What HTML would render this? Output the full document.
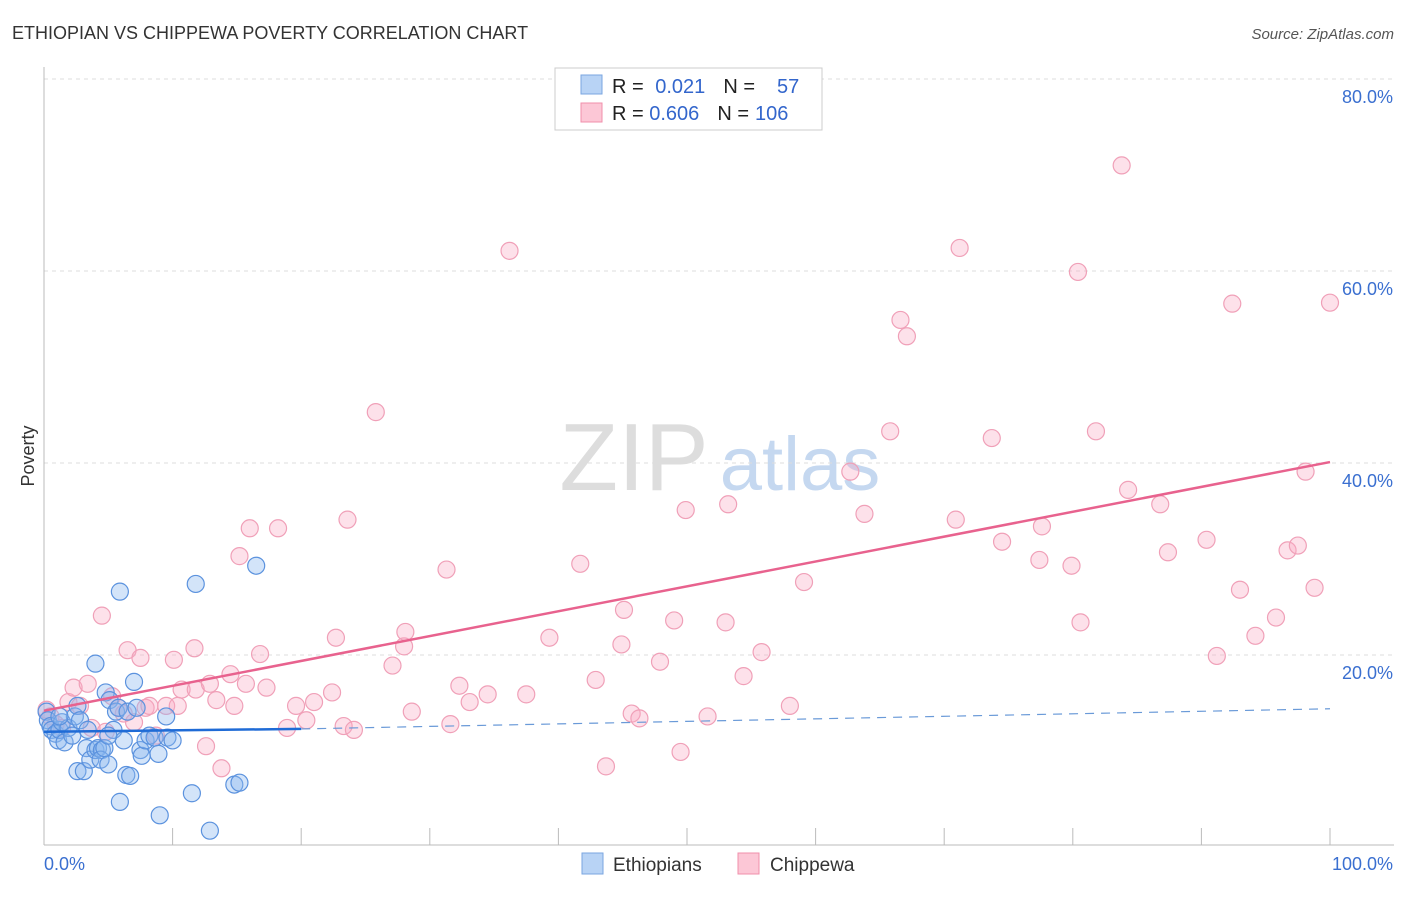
<!DOCTYPE html>
<html><head><meta charset="utf-8"><style>
body{margin:0;background:#fff;font-family:"Liberation Sans",sans-serif;}
svg text{font-family:"Liberation Sans",sans-serif;}
</style></head><body>
<svg id="chart" width="1406" height="892" xmlns="http://www.w3.org/2000/svg">
<text x="12" y="39" font-size="18" fill="#333">ETHIOPIAN VS CHIPPEWA POVERTY CORRELATION CHART</text>
<text x="1394" y="39" font-size="15" fill="#555" font-style="italic" text-anchor="end">Source: ZipAtlas.com</text>
<g>
<text x="634" y="490" font-size="96" fill="#ddd" font-family="Liberation Serif,serif" text-anchor="middle">ZIP</text>
<text x="800" y="490" font-size="76" fill="#c5d8f0" text-anchor="middle">atlas</text>
</g>
<g id="grid"></g>
<g id="axes"></g>
<g id="pink"></g>
<g id="blue"></g>
<g id="trend"></g>
<text x="34" y="456" font-size="18" fill="#333" text-anchor="middle" transform="rotate(-90 34 456)">Poverty</text>
<g>
<rect x="555" y="68" width="267" height="62" fill="#fff" stroke="#ccc"/>
<rect x="581" y="75" width="21" height="19" fill="#b8d3f5" stroke="#7aa6e0"/>
<rect x="581" y="103" width="21" height="19" fill="#fcc7d6" stroke="#f08fab"/>
<text x="612" y="93" font-size="20" fill="#222">R = <tspan fill="#3366cc" dx="6">0.021</tspan><tspan dx="18" fill="#222">N =</tspan><tspan dx="22" fill="#3366cc">57</tspan></text>
<text x="612" y="120" font-size="20" fill="#222">R = <tspan fill="#3366cc">0.606</tspan><tspan dx="18" fill="#222">N =</tspan><tspan dx="6" fill="#3366cc">106</tspan></text>
</g>
<g>
<rect x="582" y="853" width="21" height="21" fill="#b8d3f5" stroke="#7aa6e0"/>
<text x="613" y="871" font-size="19" fill="#333">Ethiopians</text>
<rect x="738" y="853" width="21" height="21" fill="#fcc7d6" stroke="#f08fab"/>
<text x="770" y="871" font-size="19" fill="#333">Chippewa</text>
</g>
</svg>
<script>
const yTicks=[20,40,60,80];
const yTickLabels=["20.0%","40.0%","60.0%","80.0%"];
const xTickVals=[0,10,20,30,40,50,60,70,80,90,100];
const blueX=[0.2,0.3,0.5,0.6,0.9,1.1,1.2,1.4,1.6,1.9,2.2,2.4,2.6,2.8,2.6,3.1,3.3,3.4,3.6,4.0,4.0,4.2,4.5,4.4,4.7,4.8,5.0,5.1,5.4,5.6,5.8,5.9,5.9,6.2,6.4,6.7,6.5,7.0,7.2,7.5,7.6,7.9,8.2,8.6,8.9,9.0,9.5,9.6,10.0,11.5,11.8,12.9,14.8,15.2,16.5,5.0,1.2];
const blueY=[14.1,13.2,12.6,12.2,11.8,11.1,12.2,13.0,10.9,12.4,11.6,13.6,14.7,13.2,7.9,7.9,10.3,12.2,9.1,19.1,10.1,10.3,10.1,9.1,10.3,16.1,8.6,15.3,12.2,14.1,14.5,26.6,4.7,11.1,7.5,7.4,14.1,17.2,14.5,10.1,9.5,11.1,11.6,11.4,9.7,3.3,13.6,11.4,11.1,5.6,27.4,1.7,6.5,6.7,29.3,11.6,13.6];
const pinkX=[0.2,0.5,0.9,1.4,1.9,2.3,2.8,3.4,3.7,4.5,4.8,5.3,5.8,6.2,6.5,7.0,7.5,7.9,8.2,8.7,9.5,10.1,10.4,10.7,11.7,11.8,12.6,12.9,13.4,13.8,14.5,14.8,15.2,15.7,16.0,16.8,17.3,18.2,18.9,19.6,20.4,21.0,22.4,22.7,23.3,23.6,24.1,25.8,27.1,28.0,28.1,28.6,31.3,31.6,32.3,33.1,34.5,36.2,37.5,39.3,41.7,42.9,43.7,44.9,45.1,45.7,46.3,47.9,49.0,49.5,49.9,51.6,53.0,53.2,54.4,55.8,58.0,59.1,62.7,63.8,65.8,66.6,67.1,70.9,71.2,73.7,74.5,77.4,77.6,79.9,80.4,80.6,81.8,84.3,83.8,86.8,87.4,90.4,91.2,92.4,93.0,94.2,95.8,96.7,97.5,98.1,98.8,100];
const pinkY=[14.3,13.6,12.8,12.4,15.1,16.6,14.7,17.0,12.4,24.1,12.0,15.7,14.5,13.9,20.5,13.0,19.7,14.5,14.7,11.6,14.7,19.5,14.7,16.4,20.7,16.4,10.5,17.0,15.3,8.2,18.0,14.7,30.3,17.0,33.2,20.1,16.6,33.2,12.4,14.7,13.2,15.1,16.1,21.8,12.6,34.1,12.2,45.3,18.9,20.9,22.4,14.1,28.9,12.8,16.8,15.1,15.9,62.1,15.9,21.8,29.5,17.4,8.4,21.1,24.7,13.9,13.4,19.3,23.6,9.9,35.1,13.6,23.4,35.7,17.8,20.3,14.7,27.6,39.1,34.7,43.3,54.9,53.2,34.1,62.4,42.6,31.8,29.9,33.4,29.3,59.9,23.4,43.3,37.2,71.0,35.7,30.7,32.0,19.9,56.6,26.8,22.0,23.9,30.9,31.4,39.1,27.0,56.7];
const pinkTrend=[[0,14.2],[100,40.1]];
const blueTrendSolid=[[0,12.0],[20,12.3]];
const blueTrendDash=[[20,12.3],[100,14.4]];

const NS="http://www.w3.org/2000/svg";
const X0=44,X1=1330,Y0=847,PXPER=9.6;
function sx(v){return X0+(X1-X0)*v/100;}
function sy(v){return Y0-v*PXPER;}
function mk(tag,attrs,parent){const e=document.createElementNS(NS,tag);for(const k in attrs)e.setAttribute(k,attrs[k]);parent.appendChild(e);return e;}
const grid=document.getElementById('grid'),axes=document.getElementById('axes');
yTicks.forEach((t,i)=>{
 const l=mk('line',{x1:X0,x2:1394,y1:sy(t),y2:sy(t),stroke:'#ddd','stroke-dasharray':'4,4'},grid);
 
 
 const tx=mk('text',{x:1393,y:sy(t)+24,'font-size':18,fill:'#3a6fd0','text-anchor':'end'},grid);
 tx.textContent=yTickLabels[i];
 
 
});
mk('line',{x1:X0,x2:X0,y1:67,y2:845,stroke:'#bbb'},axes);
mk('line',{x1:X0,x2:1394,y1:845,y2:845,stroke:'#bbb'},axes);
xTickVals.forEach(t=>{
 const l=mk('line',{x1:sx(t),x2:sx(t),y1:828,y2:845,stroke:'#bbb'},axes);
 
 
});
const xl0=mk('text',{x:44,y:870,'font-size':18,fill:'#3a6fd0'},axes);xl0.textContent='0.0%';


const xl1=mk('text',{x:1393,y:870,'font-size':18,fill:'#3a6fd0','text-anchor':'end'},axes);xl1.textContent='100.0%';



const pink=document.getElementById('pink'),blue=document.getElementById('blue');
pinkX.forEach((x,i)=>{
 const c=mk('circle',{cx:sx(x),cy:sy(pinkY[i]),r:8.5,fill:'rgba(248,170,195,0.35)',stroke:'#f0a0b8','stroke-width':1.2},pink);
 
 
});
blueX.forEach((x,i)=>{
 const c=mk('circle',{cx:sx(x),cy:sy(blueY[i]),r:8.5,fill:'rgba(140,185,240,0.38)',stroke:'#5b92de','stroke-width':1.2},blue);
 
 
});
const trend=document.getElementById('trend');
const pt=mk('line',{x1:sx(pinkTrend[0][0]),y1:sy(pinkTrend[0][1]),x2:sx(pinkTrend[1][0]),y2:sy(pinkTrend[1][1]),stroke:'#e8628e','stroke-width':2.5},trend);


const bt=mk('line',{x1:sx(blueTrendSolid[0][0]),y1:sy(blueTrendSolid[0][1]),x2:sx(blueTrendSolid[1][0]),y2:sy(blueTrendSolid[1][1]),stroke:'#1f6bd6','stroke-width':2.5},trend);


const bd=mk('line',{x1:sx(blueTrendDash[0][0]),y1:sy(blueTrendDash[0][1]),x2:sx(blueTrendDash[1][0]),y2:sy(blueTrendDash[1][1]),stroke:'#6a9ad8','stroke-width':1.2,'stroke-dasharray':'9,7'},trend);


</script>
</body></html>
